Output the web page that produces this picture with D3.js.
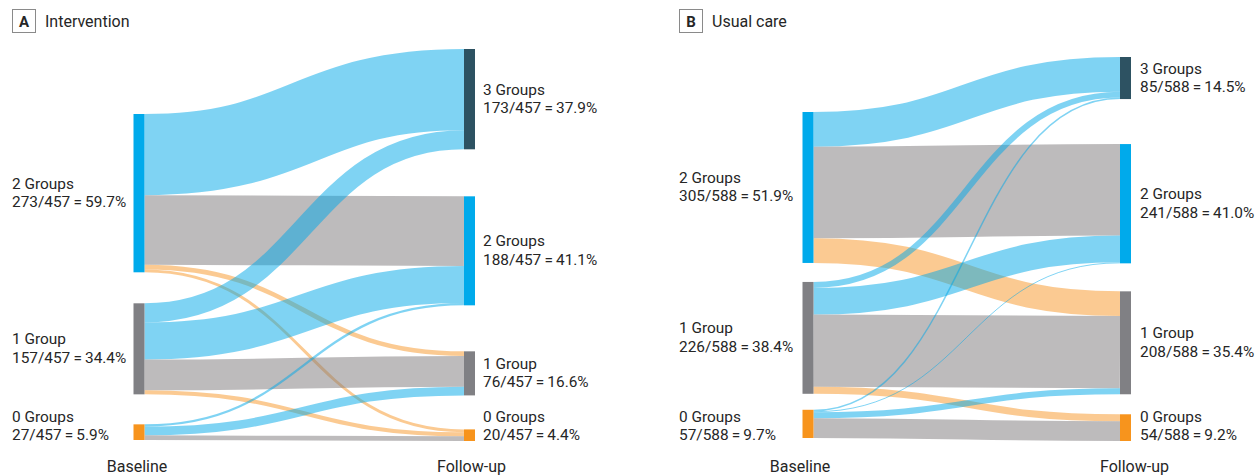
<!DOCTYPE html>
<html><head><meta charset="utf-8">
<script src="https://cdn.jsdelivr.net/npm/d3@7"></script>
<style>
body{margin:0;background:#fff}
text{font-family:Roboto,"Noto Sans",sans-serif;fill:#262626}
</style>
</head><body><svg id="chart" width="1260" height="475"></svg>
<script>
// ---------- data ----------
const stages = ["Baseline", "Follow-up"];
const groupLabels = ["0 Groups", "1 Group", "2 Groups", "3 Groups"];   // indexed by number of groups
const baselineGroups = [2, 1, 0];
const followupGroups = [3, 2, 1, 0];
const panelLetters = ["A", "B"];
const panelTitles = ["Intervention", "Usual care"];
// rows: baseline 2,1,0 groups ; columns: follow-up 3,2,1,0 groups
const interventionFlows = [[140, 120, 8, 5], [33, 64, 53, 7], [0, 4, 15, 8]];
const usualCareFlows    = [[70, 185, 50, 0], [12, 54, 146, 14], [3, 2, 12, 40]];
const panelFlows = [interventionFlows, usualCareFlows];

// ---------- layout (positions & styles) ----------
const layouts = [
  {titleX: 12,  xL: 133.5, xR: 464,  labelL: 12,  labelR: 483,  span: 265, topL: 114, gapsL: [31, 30], topR: 49, gapsR: [47, 46, 34], stageDx: [-2, 2]},
  {titleX: 679, xL: 802.5, xR: 1120, labelL: 679, labelR: 1140, span: 291, topL: 112, gapsL: [19, 16], topR: 57, gapsR: [45, 28, 20], stageDx: [-8, 9]}
];
const nodeW = 11;
const nodeColor = {3: "#2d5262", 2: "#00aaeb", 1: "#808084", 0: "#f7941d"};
const linkColor = {up: "#00a8e8", same: "#7b7779", down: "#f79525"};
const fmt = d3.format(".1f");
const labelFont = 15.4, lineGap = 18.5, bottomLine = 440;

const svg = d3.select("#chart");

panelFlows.forEach((flows, p) => {
  const L = layouts[p];
  const g = svg.append("g");
  const total = d3.sum(flows.flat());
  const y = d3.scaleLinear().domain([0, total]).range([0, L.span]);

  const leftVals = flows.map(r => d3.sum(r));
  const rightVals = followupGroups.map((_, j) => d3.sum(flows, r => r[j]));

  function place(vals, groups, top, gaps, x) {
    let cur = top;
    return vals.map((v, i) => {
      const n = {group: groups[i], value: v, x, y0: cur, y1: cur + y(v), last: i === vals.length - 1};
      cur = n.y1 + (gaps[i] || 0);
      return n;
    });
  }
  const leftNodes = place(leftVals, baselineGroups, L.topL, L.gapsL, L.xL);
  const rightNodes = place(rightVals, followupGroups, L.topR, L.gapsR, L.xR);

  // links
  const links = [];
  const srcOff = leftNodes.map(n => n.y0);
  const tgtOff = rightNodes.map(n => n.y0);
  flows.forEach((row, i) => row.forEach((v, j) => {
    const w = y(v);
    if (v > 0) {
      const s = leftNodes[i].group, t = rightNodes[j].group;
      links.push({
        v, w,
        sy: srcOff[i] + w / 2, ty: tgtOff[j] + w / 2,
        type: t > s ? "up" : (t === s ? "same" : "down")
      });
    }
    srcOff[i] += w;
    tgtOff[j] += w;
  }));

  const linkGen = d3.linkHorizontal();
  g.append("g").selectAll("path").data(links).join("path")
    .attr("d", d => linkGen({source: [L.xL + nodeW, d.sy], target: [L.xR, d.ty]}))
    .attr("fill", "none")
    .attr("stroke", d => linkColor[d.type])
    .attr("stroke-opacity", 0.5)
    .attr("stroke-width", d => d.w);

  // nodes
  g.append("g").selectAll("rect").data(leftNodes.concat(rightNodes)).join("rect")
    .attr("x", d => d.x).attr("y", d => d.y0)
    .attr("width", nodeW).attr("height", d => d.y1 - d.y0)
    .attr("fill", d => nodeColor[d.group]);

  // node labels
  function labels(nodes, x) {
    nodes.forEach(n => {
      const cy = (n.y0 + n.y1) / 2;
      const b = n.last ? bottomLine - lineGap : cy - 4.5;
      const t = g.append("text").attr("x", x).attr("font-size", labelFont);
      t.append("tspan").attr("x", x).attr("y", b).text(groupLabels[n.group]);
      t.append("tspan").attr("x", x).attr("y", b + lineGap)
        .text(`${n.value}/${total}\u2009=\u2009${fmt(n.value / total * 100)}%`);
    });
  }
  labels(leftNodes, L.labelL);
  labels(rightNodes, L.labelR);

  // stage labels
  [L.xL, L.xR].forEach((x, k) => {
    g.append("text").attr("x", x + nodeW / 2 + L.stageDx[k]).attr("y", 472)
      .attr("text-anchor", "middle").attr("font-size", 16).text(stages[k]);
  });

  // panel title
  g.append("rect").attr("x", L.titleX + 0.5).attr("y", 9.5).attr("width", 23).attr("height", 23)
    .attr("fill", "none").attr("stroke", "#8a8a8a").attr("stroke-width", 1);
  g.append("text").attr("x", L.titleX + 12).attr("y", 27).attr("text-anchor", "middle")
    .attr("font-size", 15).attr("font-weight", "bold").text(panelLetters[p]);
  g.append("text").attr("x", L.titleX + 33).attr("y", 27).attr("font-size", 16).text(panelTitles[p]);
});
</script>
</body></html>
